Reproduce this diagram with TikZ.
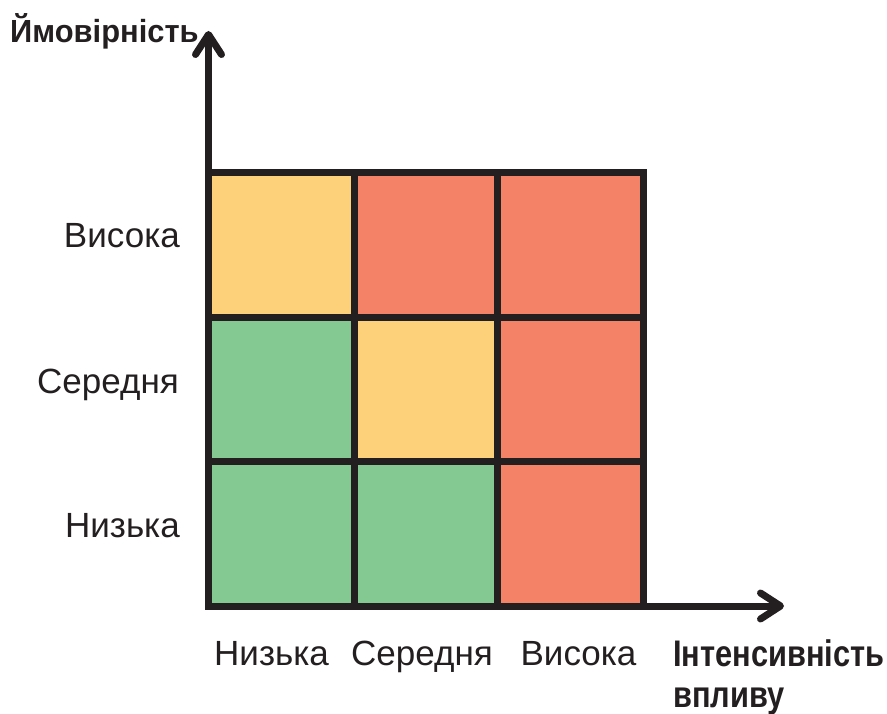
\documentclass[tikz,border=0pt]{standalone}
\usepackage{fontspec}
\setmainfont{Liberation Sans}
\usetikzlibrary{arrows.meta}
\definecolor{ink}{HTML}{231F20}
\definecolor{lowrisk}{HTML}{84C991}
\definecolor{midrisk}{HTML}{FDD07A}
\definecolor{highrisk}{HTML}{F38267}
\tikzset{
  cell/.style={rectangle, inner sep=0pt, minimum width=145pt, minimum height=145pt, draw=none},
  gridline/.style={draw=ink, line width=7pt, line join=miter},
  axis/.style={draw=ink, line width=7pt, line join=miter,
    arrows={Straight Barb[length=20pt, width=26pt, line cap=round, line join=round]-Straight Barb[length=20pt, width=26pt, line cap=round, line join=round]}},
  level/.style={text=ink, inner sep=0pt, font=\fontsize{35}{40}\selectfont},
  axislabel/.style={text=ink, inner sep=0pt, anchor=base west},
}
\begin{document}
\begin{tikzpicture}[x=1pt, y=-1pt]
\useasboundingbox (0,0) rectangle (887,714);

% risk cells: columns = impact, rows = probability
\node[cell, fill=midrisk]  (hl) at (281.25,245.25) {};
\node[cell, fill=highrisk] (hm) at (425.75,245.25) {};
\node[cell, fill=highrisk] (hh) at (570.25,245.25) {};
\node[cell, fill=lowrisk]  (ml) at (281.25,389.25) {};
\node[cell, fill=midrisk]  (mm) at (425.75,389.25) {};
\node[cell, fill=highrisk] (mh) at (570.25,389.25) {};
\node[cell, fill=lowrisk]  (ll) at (281.25,533.5) {};
\node[cell, fill=lowrisk]  (lm) at (425.75,533.5) {};
\node[cell, fill=highrisk] (lh) at (570.25,533.5) {};

% grid lines
\coordinate (o) at (208.5,606);
\coordinate (ytip) at (208.5,31);
\coordinate (xtip) at (784,606);
\draw[gridline] (208.5,173) -- (643,173) -- (643,606);
\draw[gridline] (354,173) -- (354,606);
\draw[gridline] (497.5,173) -- (497.5,606);
\draw[gridline] (208.5,317.5) -- (643,317.5);
\draw[gridline] (208.5,461) -- (643,461);

% axes
\draw[axis] (ytip) -- (o) -- (xtip);

% probability levels
\node[level, anchor=base east] (py) at (180,248) {Висока};
\node[level, anchor=base east] (pm) at (179,393) {Середня};
\node[level, anchor=base east] (pn) at (180,537) {Низька};

% impact levels
\node[level, anchor=base] (in) at (271.5,665) {Низька};
\node[level, anchor=base] (im) at (422,665) {Середня};
\node[level, anchor=base] (iy) at (578.5,665) {Висока};

% axis titles (bold, slightly condensed)
\node[axislabel] (ylab) at (10,42.7)
  {\scalebox{0.965}[1]{\fontsize{32}{36}\selectfont\bfseries Ймовірність}};
\node[axislabel] (xlab) at (673,666.7)
  {\scalebox{0.832}[1]{\fontsize{37}{42}\selectfont\bfseries Інтенсивність}};
\node[axislabel] (xlab2) at (673,707)
  {\scalebox{0.832}[1]{\fontsize{37}{42}\selectfont\bfseries впливу}};
\end{tikzpicture}
\end{document}
